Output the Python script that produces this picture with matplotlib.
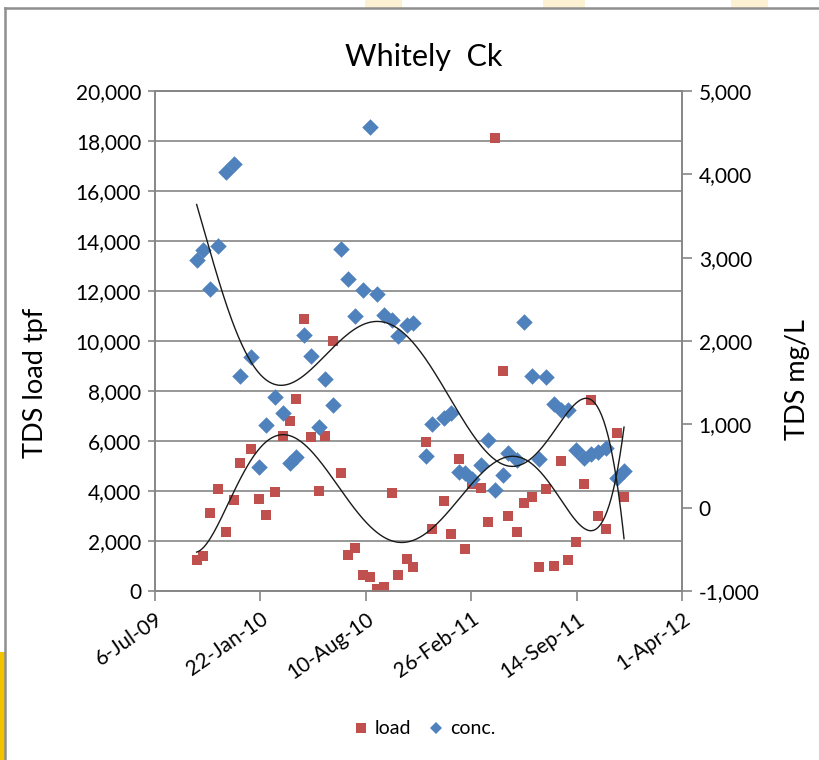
import numpy as np
import pandas as pd
import matplotlib
matplotlib.use("Agg")
import matplotlib.pyplot as plt
import matplotlib.dates as mdates
from matplotlib.ticker import FuncFormatter, MultipleLocator
from matplotlib.lines import Line2D
from matplotlib.patches import Rectangle

plt.rcParams['font.family'] = ['Lato', 'DejaVu Sans']

# Fortnightly sampling dates, Whitely Creek
sample_dates = [
    "2009-09-23", "2009-10-06", "2009-10-19", "2009-11-02", "2009-11-17",
    "2009-12-03", "2009-12-15", "2010-01-05", "2010-01-20", "2010-02-02",
    "2010-02-18", "2010-03-05", "2010-03-19", "2010-03-31", "2010-04-14",
    "2010-04-28", "2010-05-13", "2010-05-25", "2010-06-09", "2010-06-23",
    "2010-07-07", "2010-07-21", "2010-08-04", "2010-08-18", "2010-08-31",
    "2010-09-14", "2010-09-29", "2010-10-10", "2010-10-27", "2010-11-08",
    "2010-12-02", "2010-12-14", "2011-01-06", "2011-01-18", "2011-02-03",
    "2011-02-15", "2011-02-28", "2011-03-16", "2011-03-30", "2011-04-12",
    "2011-04-28", "2011-05-06", "2011-05-23", "2011-06-07", "2011-06-21",
    "2011-07-04", "2011-07-18", "2011-08-03", "2011-08-15", "2011-08-29",
    "2011-09-13", "2011-09-28", "2011-10-11", "2011-10-24", "2011-11-09",
    "2011-11-29", "2011-12-13",
]

# TDS load (tpf), left axis
tds_load = [
    1240, 1420, 3110, 4080, 2370, 3660, 5120, 5680, 3700, 3060,
    3970, 6200, 6800, 7690, 10870, 6160, 4000, 6190, 10010, 4710,
    1430, 1730, 650, 570, 100, 170, 3920, 650, 1300, 950,
    5980, 2470, 3620, 2290, 5300, 1690, 4280, 4130, 2760, 18120,
    8810, 3010, 2370, 3530, 3760, 960, 4090, 990, 5200, 1260,
    1950, 4300, 7650, 3010, 2470, 6330, 3750,
]

# TDS concentration (mg/L), right axis
tds_conc = [
    2972, 3098, 2620, 3140, 4028, 4124, 1576, 1804, 492, 996,
    1332, 1140, 540, 604, 2072, 1820, 968, 1548, 1232, 3100,
    2740, 2304, 2612, 4572, 2560, 2312, 2252, 2060, 2192, 2212,
    626, 1004, 1072, 1140, 432, 412, 344, 512, 818, 212,
    398, 662, 572, 2224, 1584, 580, 1572, 1244, 1172, 1178,
    692, 592, 644, 672, 720, 352, 444,
]

x_start = "2009-07-06"
x_end = "2012-04-01"
x_tick_step_days = 200

LOAD_COLOR = "#C0504D"
CONC_COLOR = "#4F81BD"
AXIS_GRAY = "#868686"

dates = pd.to_datetime(sample_dates)
xnum = mdates.date2num(dates.to_pydatetime())
load = np.array(tds_load, dtype=float)
conc = np.array(tds_conc, dtype=float)


def poly_trend(x, y, order=6, n=400):
    """Polynomial trendline evaluated over the span of the data."""
    mu, sd = x.mean(), x.std()
    coef = np.polyfit((x - mu) / sd, y, order)
    xs = np.linspace(x.min(), x.max(), n)
    return xs, np.polyval(coef, (xs - mu) / sd)


fig = plt.figure(figsize=(8.19, 7.60), dpi=100)
W, H = 819, 760

# page decoration: slide border and accent shapes
fig.add_artist(Rectangle((0, 1 - 760 / H), 5 / W, 108 / H, transform=fig.transFigure,
                         facecolor="#F3C300", edgecolor="none"))
for x0, x1 in [(365, 402), (543, 585), (731, 768)]:
    fig.add_artist(Rectangle((x0 / W, 1 - 8 / H), (x1 - x0) / W, 8 / H,
                             transform=fig.transFigure, facecolor="#FCF1D2",
                             edgecolor="none"))
fig.add_artist(Line2D([5 / W, 1], [1 - 8 / H, 1 - 8 / H], transform=fig.transFigure,
                      color="#8F8F8F", lw=1.8))
fig.add_artist(Line2D([5 / W, 5 / W], [0, 1 - 8 / H], transform=fig.transFigure,
                      color="#8F8F8F", lw=1.8))

ax = fig.add_axes([155 / W, 1 - 591 / H, 527 / W, 500 / H])
ax2 = ax.twinx()

# load series
ax.scatter(xnum, load, marker="s", s=7.5 ** 2, color=LOAD_COLOR, linewidths=0,
           zorder=3)
# concentration series
ax2.scatter(xnum, conc, marker="D", s=8.4 ** 2, color=CONC_COLOR, linewidths=0,
            zorder=3)

# trendlines drawn above both series
tx, ty = poly_trend(xnum, load)
ax2.plot(tx, ty, color="#1a1a1a", lw=1.0, transform=ax.transData, zorder=4)
tx, ty = poly_trend(xnum, conc)
ax2.plot(tx, ty, color="#1a1a1a", lw=1.0, zorder=4)

x0n = mdates.date2num(pd.Timestamp(x_start).to_pydatetime())
x1n = mdates.date2num(pd.Timestamp(x_end).to_pydatetime())
ax.set_xlim(x0n, x1n)
ax.set_ylim(0, 20000)
ax2.set_ylim(-1000, 5000)

ticks = np.arange(x0n, x1n + 1, x_tick_step_days)
ax.set_xticks(ticks)


def date_fmt(v, pos=None):
    d = mdates.num2date(v)
    return f"{d.day}-{d.strftime('%b-%y')}"


ax.xaxis.set_major_formatter(FuncFormatter(date_fmt))
comma = FuncFormatter(lambda v, p: f"{v:,.0f}")
ax.yaxis.set_major_locator(MultipleLocator(2000))
ax.yaxis.set_major_formatter(comma)
ax2.yaxis.set_major_locator(MultipleLocator(1000))
ax2.yaxis.set_major_formatter(comma)

ax.yaxis.grid(True, color=AXIS_GRAY, lw=1.2)
ax.set_axisbelow(True)

for a in (ax, ax2):
    for sp in a.spines.values():
        sp.set_color(AXIS_GRAY)
        sp.set_linewidth(1.2)

ax.tick_params(axis="y", direction="out", length=5, width=1.2, color=AXIS_GRAY,
               labelsize=15, pad=5, labelcolor="black")
ax.tick_params(axis="x", direction="out", length=7, width=1.2, color=AXIS_GRAY,
               labelsize=15, pad=6, labelcolor="black")
ax2.tick_params(axis="y", direction="out", length=7, width=1.2, color=AXIS_GRAY,
                labelsize=15, pad=5, labelcolor="black")

for lbl in ax.get_xticklabels():
    lbl.set_rotation(35)
    lbl.set_ha("right")
    lbl.set_va("top")
    lbl.set_rotation_mode("anchor")

fig.text(424 / W, 1 - 57 / H, "Whitely  Ck", ha="center", va="center", fontsize=22)
fig.text(36 / W, 1 - 383 / H, "TDS load tpf", rotation=90, ha="center", va="center",
         fontsize=19.5)
fig.text(797 / W, 1 - 380 / H, "TDS mg/L", rotation=90, ha="center", va="center",
         fontsize=19.5)

handles = [
    Line2D([], [], marker="s", ls="none", color=LOAD_COLOR, markersize=7.5,
           markeredgewidth=0),
    Line2D([], [], marker="D", ls="none", color=CONC_COLOR, markersize=6,
           markeredgewidth=0),
]
fig.legend(handles, ["load", "conc."], loc="center",
           bbox_to_anchor=(424 / W, 1 - 729 / H), ncol=2, frameon=False,
           fontsize=14, handlelength=0.8, handletextpad=0.3, columnspacing=0.9)

fig.savefig("out.png", dpi=100)
